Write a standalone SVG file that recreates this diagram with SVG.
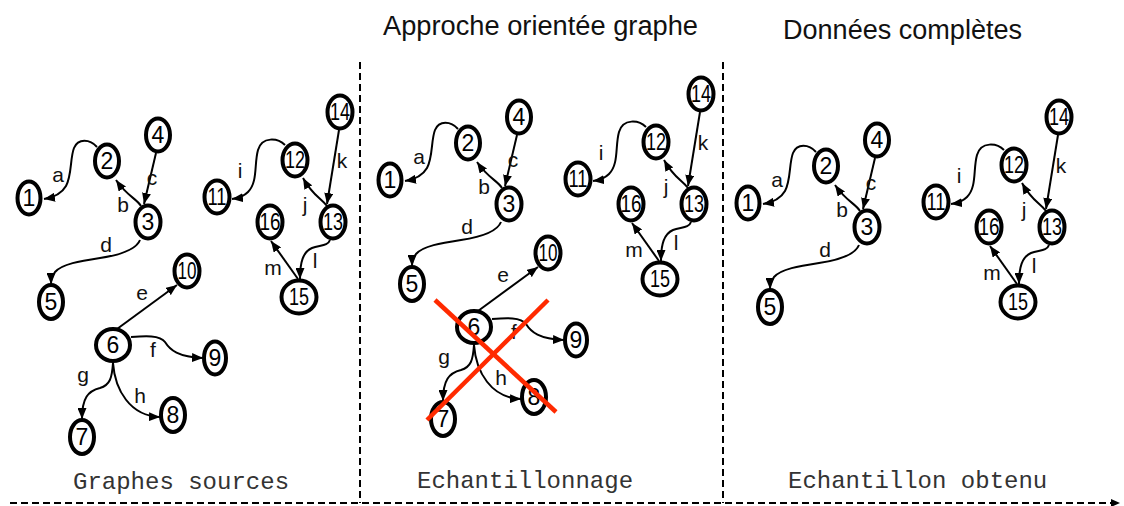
<svg xmlns="http://www.w3.org/2000/svg" width="1124" height="506" viewBox="0 0 1124 506">
<style>
.node ellipse{fill:#fff;stroke:#000;stroke-width:4}
.node text{font-family:"Liberation Sans",Arial,sans-serif;font-size:23px;text-anchor:middle;fill:#000}
.edge{fill:none;stroke:#000;stroke-width:2;marker-end:url(#arr)}
.lbl{font-family:"Liberation Sans",Arial,sans-serif;font-size:21px;text-anchor:middle;fill:#111}
.sep{fill:none;stroke:#000;stroke-width:2;stroke-dasharray:7 4}
.mono{font-family:"Liberation Mono","Courier New",monospace;font-size:24px;fill:#333}
.title{font-family:"Liberation Sans",Arial,sans-serif;font-size:27px;fill:#111}
.cross{stroke:#ff2a00;stroke-width:4.5;stroke-linecap:butt}
</style>
<defs>
<marker id="arr" markerUnits="userSpaceOnUse" markerWidth="11" markerHeight="9" refX="11" refY="4.5" orient="auto"><path d="M0,0 L11,4.5 L0,9 z" fill="#000"/></marker>
<marker id="arr2" markerUnits="userSpaceOnUse" markerWidth="9" markerHeight="8" refX="9" refY="4" orient="auto"><path d="M0,0 L9,4 L0,8 z" fill="#000"/></marker>
</defs>
<rect width="1124" height="506" fill="#fff"/>

<g id="titles">
<text class="title" x="383" y="35" textLength="315" lengthAdjust="spacingAndGlyphs">Approche orientée graphe</text>
<text class="title" x="783" y="39" textLength="239" lengthAdjust="spacingAndGlyphs">Données complètes</text>
</g>

<g id="separators">
<line class="sep" x1="360" y1="62" x2="360" y2="503"/>
<line class="sep" x1="723" y1="62" x2="723" y2="503"/>
<line class="sep" x1="10" y1="503" x2="1120" y2="503" marker-end="url(#arr2)"/>
</g>

<g id="connectors">
<g id="p1-edges">
<path class="edge" d="M97,147 C90,139 78,138 74,148 C70,158 72,175 66,186 C62,193 56,197 44,199"/>
<path class="edge" d="M141,206 C136,198 128,197 116,180"/>
<path class="edge" d="M156,153 L144,204"/>
<path class="edge" d="M140,240 C136,250 120,255 100,258 C80,261 62,264 55,272 C52,276 51,280 51,284"/>
<path class="edge" d="M117,329 L177,285"/>
<path class="edge" d="M131,337 C145,336 160,335 165,342 C170,350 178,357 203,358"/>
<path class="edge" d="M113,363 C112,378 110,385 100,388 C88,391 82,398 82,419"/>
<path class="edge" d="M113,363 C115,390 130,416 160,417"/>
<path class="edge" d="M285,145 C278,138 262,136 258,150 C254,164 258,182 248,192 C244,196 240,198 232,199"/>
<path class="edge" d="M327,206 C321,198 313,196 303,178"/>
<path class="edge" d="M339,130 L327,204"/>
<path class="edge" d="M330,240 C328,246 320,245 312,248 C303,252 300,262 300,279"/>
<path class="edge" d="M298,279 L271,241"/>
<text class="lbl" x="58" y="182">a</text>
<text class="lbl" x="123" y="212">b</text>
<text class="lbl" x="152" y="185">c</text>
<text class="lbl" x="106" y="252">d</text>
<text class="lbl" x="142" y="300">e</text>
<text class="lbl" x="153" y="357">f</text>
<text class="lbl" x="83" y="382">g</text>
<text class="lbl" x="140" y="403">h</text>
<text class="lbl" x="240" y="178">i</text>
<text class="lbl" x="305" y="212">j</text>
<text class="lbl" x="342" y="168">k</text>
<text class="lbl" x="315" y="268">l</text>
<text class="lbl" x="273" y="275">m</text>
</g>
<g id="p2-edges" transform="translate(361,-18)">
<path class="edge" d="M97,147 C90,139 78,138 74,148 C70,158 72,175 66,186 C62,193 56,197 44,199"/>
<path class="edge" d="M141,206 C136,198 128,197 116,180"/>
<path class="edge" d="M156,153 L144,204"/>
<path class="edge" d="M140,240 C136,250 120,255 100,258 C80,261 62,264 55,272 C52,276 51,280 51,284"/>
<path class="edge" d="M117,329 L177,285"/>
<path class="edge" d="M131,337 C145,336 160,335 165,342 C170,350 178,357 203,358"/>
<path class="edge" d="M113,363 C112,378 110,385 100,388 C88,391 82,398 82,419"/>
<path class="edge" d="M113,363 C115,390 130,416 160,417"/>
<path class="edge" d="M285,145 C278,138 262,136 258,150 C254,164 258,182 248,192 C244,196 240,198 232,199"/>
<path class="edge" d="M327,206 C321,198 313,196 303,178"/>
<path class="edge" d="M339,130 L327,204"/>
<path class="edge" d="M330,240 C328,246 320,245 312,248 C303,252 300,262 300,279"/>
<path class="edge" d="M298,279 L271,241"/>
<text class="lbl" x="58" y="182">a</text>
<text class="lbl" x="123" y="212">b</text>
<text class="lbl" x="152" y="185">c</text>
<text class="lbl" x="106" y="252">d</text>
<text class="lbl" x="142" y="300">e</text>
<text class="lbl" x="153" y="357">f</text>
<text class="lbl" x="83" y="382">g</text>
<text class="lbl" x="140" y="403">h</text>
<text class="lbl" x="240" y="178">i</text>
<text class="lbl" x="305" y="212">j</text>
<text class="lbl" x="342" y="168">k</text>
<text class="lbl" x="315" y="268">l</text>
<text class="lbl" x="273" y="275">m</text>
</g>
<g id="p3-edges" transform="translate(719,5)">
<path class="edge" d="M97,147 C90,139 78,138 74,148 C70,158 72,175 66,186 C62,193 56,197 44,199"/>
<path class="edge" d="M141,206 C136,198 128,197 116,180"/>
<path class="edge" d="M156,153 L144,204"/>
<path class="edge" d="M140,240 C136,250 120,255 100,258 C80,261 62,264 55,272 C52,276 51,280 51,284"/>
<path class="edge" d="M285,145 C278,138 262,136 258,150 C254,164 258,182 248,192 C244,196 240,198 232,199"/>
<path class="edge" d="M327,206 C321,198 313,196 303,178"/>
<path class="edge" d="M339,130 L327,204"/>
<path class="edge" d="M330,240 C328,246 320,245 312,248 C303,252 300,262 300,279"/>
<path class="edge" d="M298,279 L271,241"/>
<text class="lbl" x="58" y="182">a</text>
<text class="lbl" x="123" y="212">b</text>
<text class="lbl" x="152" y="185">c</text>
<text class="lbl" x="106" y="252">d</text>
<text class="lbl" x="240" y="178">i</text>
<text class="lbl" x="305" y="212">j</text>
<text class="lbl" x="342" y="168">k</text>
<text class="lbl" x="315" y="268">l</text>
<text class="lbl" x="273" y="275">m</text>
</g>
</g>

<g id="panel1">
<g id="p1-n1" class="node"><ellipse cx="29" cy="198" rx="11.5" ry="16.5"/><text x="29" y="206">1</text></g>
<g id="p1-n2" class="node"><ellipse cx="107" cy="161" rx="12" ry="16.5"/><text x="107" y="169">2</text></g>
<g id="p1-n3" class="node"><ellipse cx="148" cy="222" rx="12.5" ry="16.5"/><text x="148" y="230">3</text></g>
<g id="p1-n4" class="node"><ellipse cx="158" cy="135" rx="12" ry="16.5"/><text x="158" y="143">4</text></g>
<g id="p1-n5" class="node"><ellipse cx="51" cy="302" rx="12" ry="17"/><text x="51" y="310">5</text></g>
<g id="p1-n6" class="node"><ellipse cx="113" cy="345" rx="17" ry="16"/><text x="113" y="353">6</text></g>
<g id="p1-n7" class="node"><ellipse cx="82" cy="437" rx="12" ry="17"/><text x="82" y="445">7</text></g>
<g id="p1-n8" class="node"><ellipse cx="173" cy="415" rx="12" ry="17"/><text x="173" y="423">8</text></g>
<g id="p1-n9" class="node"><ellipse cx="215" cy="358" rx="11" ry="16.5"/><text x="215" y="366">9</text></g>
<g id="p1-n10" class="node"><ellipse cx="187" cy="271" rx="12.5" ry="16.5"/><text x="187" y="279" textLength="19" lengthAdjust="spacingAndGlyphs">10</text></g>
<g id="p1-n11" class="node"><ellipse cx="217" cy="197" rx="12.5" ry="16.5"/><text x="217" y="205" textLength="19" lengthAdjust="spacingAndGlyphs">11</text></g>
<g id="p1-n12" class="node"><ellipse cx="295" cy="160" rx="12.5" ry="16.5"/><text x="295" y="168" textLength="20" lengthAdjust="spacingAndGlyphs">12</text></g>
<g id="p1-n13" class="node"><ellipse cx="333" cy="222" rx="12.5" ry="16.5"/><text x="333" y="230" textLength="20" lengthAdjust="spacingAndGlyphs">13</text></g>
<g id="p1-n14" class="node"><ellipse cx="340" cy="112" rx="12.5" ry="16.5"/><text x="340" y="120" textLength="20" lengthAdjust="spacingAndGlyphs">14</text></g>
<g id="p1-n15" class="node"><ellipse cx="299" cy="297" rx="17.5" ry="16.5"/><text x="299" y="305" textLength="20" lengthAdjust="spacingAndGlyphs">15</text></g>
<g id="p1-n16" class="node"><ellipse cx="270" cy="222" rx="12.5" ry="16.5"/><text x="270" y="230" textLength="21" lengthAdjust="spacingAndGlyphs">16</text></g>
</g>

<g id="panel2" transform="translate(361,-18)">
<g id="p2-n1" class="node"><ellipse cx="29" cy="198" rx="11.5" ry="16.5"/><text x="29" y="206">1</text></g>
<g id="p2-n2" class="node"><ellipse cx="107" cy="161" rx="12" ry="16.5"/><text x="107" y="169">2</text></g>
<g id="p2-n3" class="node"><ellipse cx="148" cy="222" rx="12.5" ry="16.5"/><text x="148" y="230">3</text></g>
<g id="p2-n4" class="node"><ellipse cx="158" cy="135" rx="12" ry="16.5"/><text x="158" y="143">4</text></g>
<g id="p2-n5" class="node"><ellipse cx="51" cy="302" rx="12" ry="17"/><text x="51" y="310">5</text></g>
<g id="p2-n6" class="node"><ellipse cx="113" cy="345" rx="17" ry="16"/><text x="113" y="353">6</text></g>
<g id="p2-n7" class="node"><ellipse cx="82" cy="437" rx="12" ry="17"/><text x="82" y="445">7</text></g>
<g id="p2-n8" class="node"><ellipse cx="173" cy="415" rx="12" ry="17"/><text x="173" y="423">8</text></g>
<g id="p2-n9" class="node"><ellipse cx="215" cy="358" rx="11" ry="16.5"/><text x="215" y="366">9</text></g>
<g id="p2-n10" class="node"><ellipse cx="187" cy="271" rx="12.5" ry="16.5"/><text x="187" y="279" textLength="19" lengthAdjust="spacingAndGlyphs">10</text></g>
<g id="p2-n11" class="node"><ellipse cx="217" cy="197" rx="12.5" ry="16.5"/><text x="217" y="205" textLength="19" lengthAdjust="spacingAndGlyphs">11</text></g>
<g id="p2-n12" class="node"><ellipse cx="295" cy="160" rx="12.5" ry="16.5"/><text x="295" y="168" textLength="20" lengthAdjust="spacingAndGlyphs">12</text></g>
<g id="p2-n13" class="node"><ellipse cx="333" cy="222" rx="12.5" ry="16.5"/><text x="333" y="230" textLength="20" lengthAdjust="spacingAndGlyphs">13</text></g>
<g id="p2-n14" class="node"><ellipse cx="340" cy="112" rx="12.5" ry="16.5"/><text x="340" y="120" textLength="20" lengthAdjust="spacingAndGlyphs">14</text></g>
<g id="p2-n15" class="node"><ellipse cx="299" cy="297" rx="17.5" ry="16.5"/><text x="299" y="305" textLength="20" lengthAdjust="spacingAndGlyphs">15</text></g>
<g id="p2-n16" class="node"><ellipse cx="270" cy="222" rx="12.5" ry="16.5"/><text x="270" y="230" textLength="21" lengthAdjust="spacingAndGlyphs">16</text></g>
</g>

<g id="panel3" transform="translate(719,5)">
<g id="p3-n1" class="node"><ellipse cx="29" cy="198" rx="11.5" ry="16.5"/><text x="29" y="206">1</text></g>
<g id="p3-n2" class="node"><ellipse cx="107" cy="161" rx="12" ry="16.5"/><text x="107" y="169">2</text></g>
<g id="p3-n3" class="node"><ellipse cx="148" cy="222" rx="12.5" ry="16.5"/><text x="148" y="230">3</text></g>
<g id="p3-n4" class="node"><ellipse cx="158" cy="135" rx="12" ry="16.5"/><text x="158" y="143">4</text></g>
<g id="p3-n5" class="node"><ellipse cx="51" cy="302" rx="12" ry="17"/><text x="51" y="310">5</text></g>
<g id="p3-n11" class="node"><ellipse cx="217" cy="197" rx="12.5" ry="16.5"/><text x="217" y="205" textLength="19" lengthAdjust="spacingAndGlyphs">11</text></g>
<g id="p3-n12" class="node"><ellipse cx="295" cy="160" rx="12.5" ry="16.5"/><text x="295" y="168" textLength="20" lengthAdjust="spacingAndGlyphs">12</text></g>
<g id="p3-n13" class="node"><ellipse cx="333" cy="222" rx="12.5" ry="16.5"/><text x="333" y="230" textLength="20" lengthAdjust="spacingAndGlyphs">13</text></g>
<g id="p3-n14" class="node"><ellipse cx="340" cy="112" rx="12.5" ry="16.5"/><text x="340" y="120" textLength="20" lengthAdjust="spacingAndGlyphs">14</text></g>
<g id="p3-n15" class="node"><ellipse cx="299" cy="297" rx="17.5" ry="16.5"/><text x="299" y="305" textLength="20" lengthAdjust="spacingAndGlyphs">15</text></g>
<g id="p3-n16" class="node"><ellipse cx="270" cy="222" rx="12.5" ry="16.5"/><text x="270" y="230" textLength="21" lengthAdjust="spacingAndGlyphs">16</text></g>
</g>

<g id="cross">
<line class="cross" x1="435" y1="300" x2="556" y2="412"/>
<line class="cross" x1="548" y1="300" x2="427" y2="420"/>
</g>

<g id="captions">
<text class="mono" x="73" y="489">Graphes sources</text>
<text class="mono" x="417" y="488">Echantillonnage</text>
<text class="mono" x="788" y="488">Echantillon obtenu</text>
</g>
</svg>
